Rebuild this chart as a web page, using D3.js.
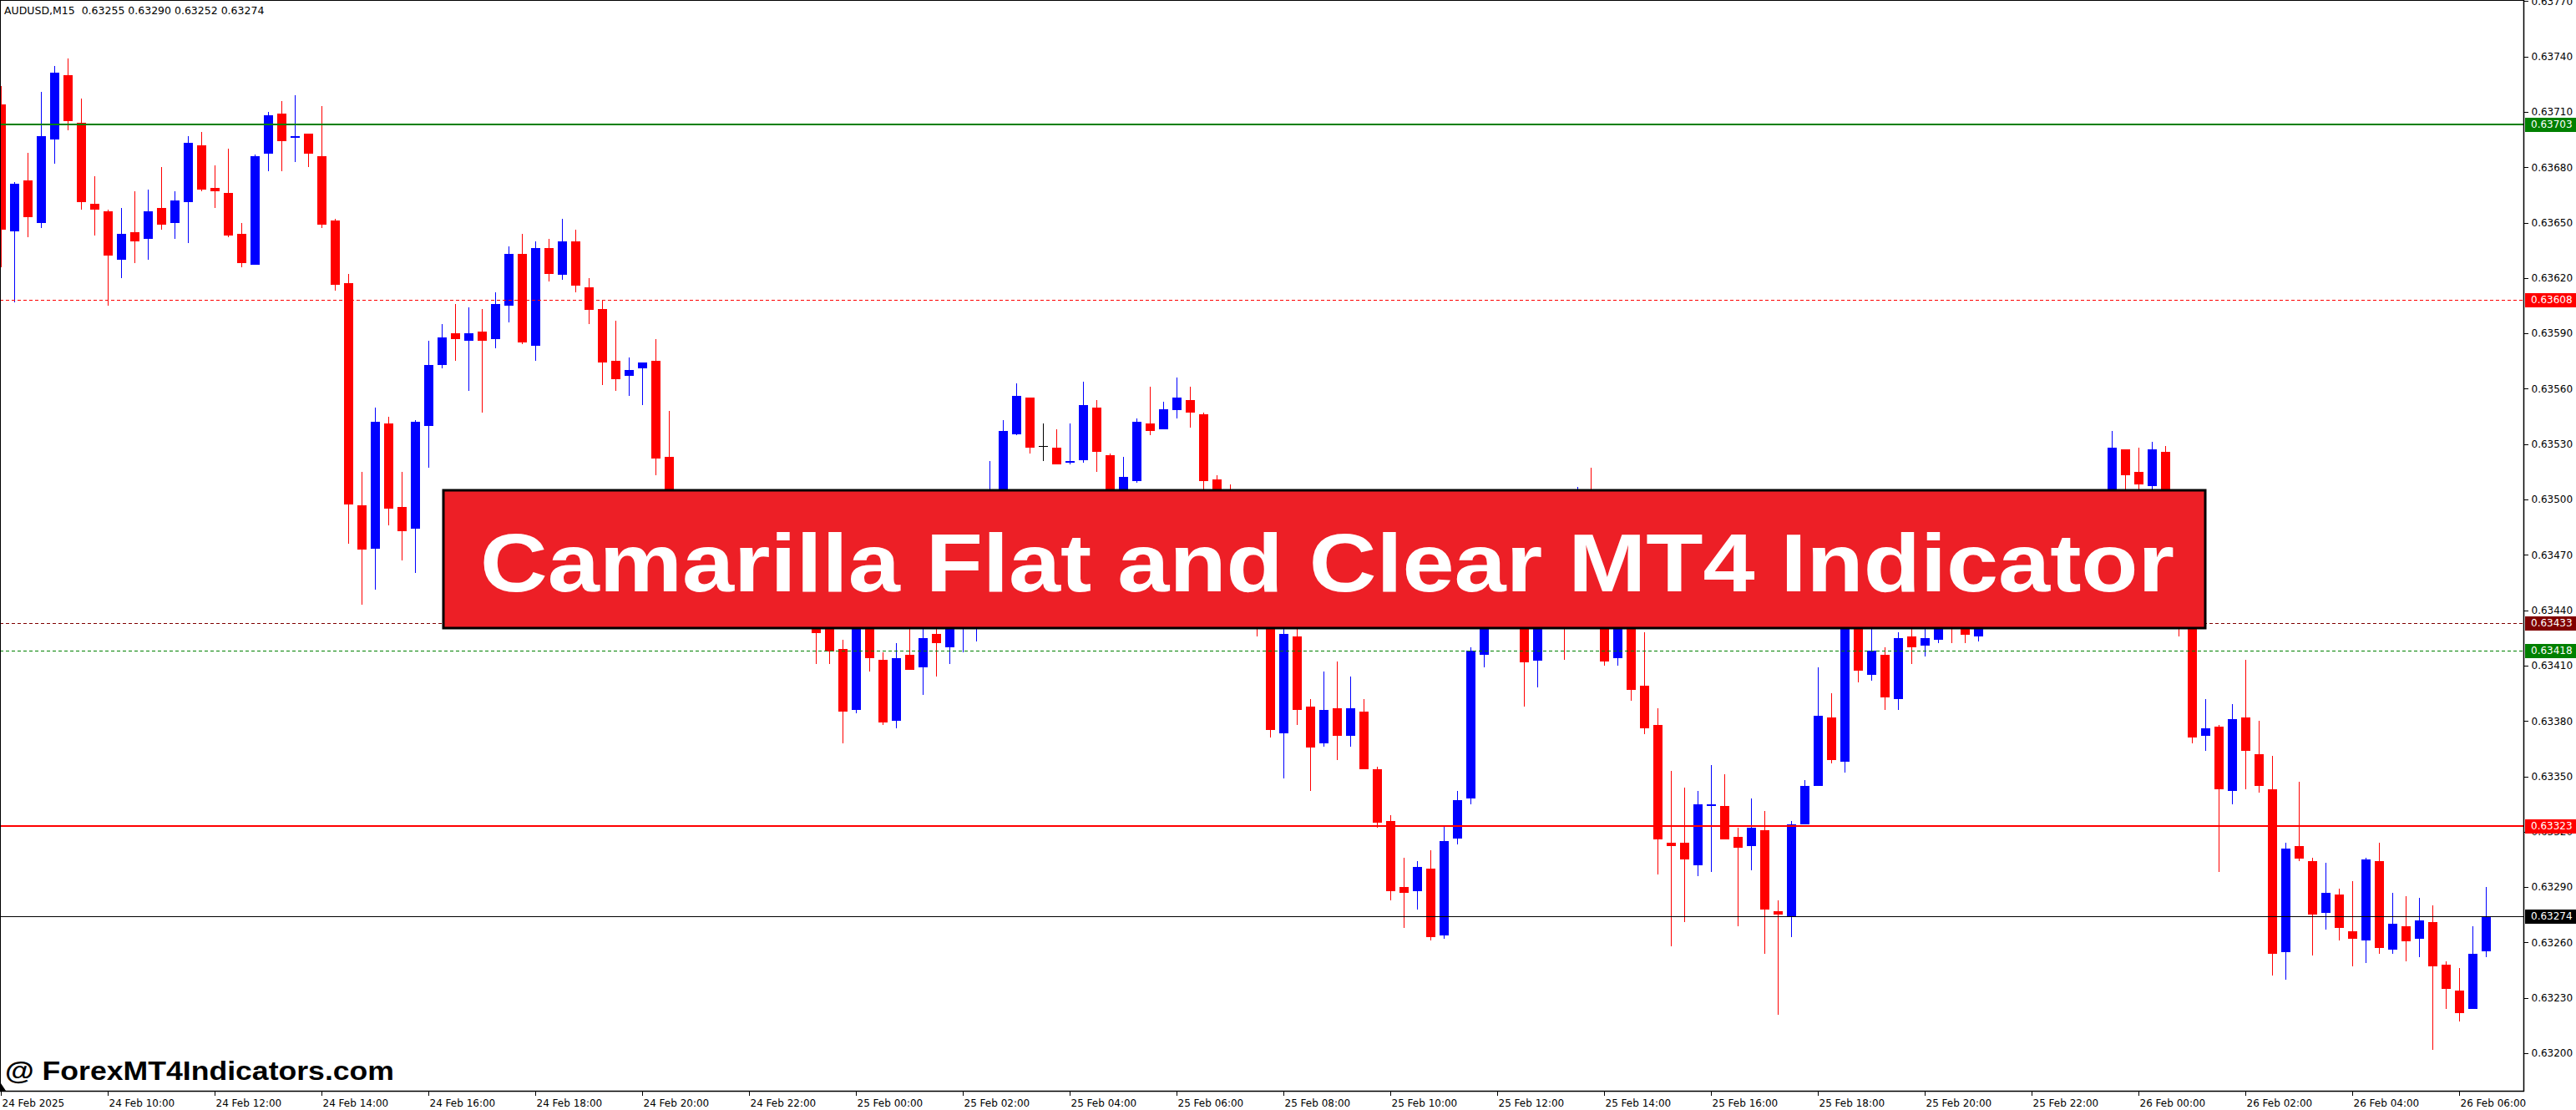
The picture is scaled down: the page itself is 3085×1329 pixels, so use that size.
<!DOCTYPE html>
<html><head><meta charset="utf-8">
<script src="https://cdn.jsdelivr.net/npm/d3@7"></script>
<style>html,body{margin:0;padding:0;background:#fff;overflow:hidden}svg{display:block}</style>
</head><body>
<svg id="chart" width="3085" height="1329"></svg>
<script>
// ---------------- DATA ----------------
const chartTitle = "AUDUSD,M15  0.63255 0.63290 0.63252 0.63274";
const bannerTitle = "Camarilla Flat and Clear MT4 Indicator";
const watermark = "@ ForexMT4Indicators.com";
const timeLabels = ["24 Feb 2025","24 Feb 10:00","24 Feb 12:00","24 Feb 14:00","24 Feb 16:00","24 Feb 18:00","24 Feb 20:00","24 Feb 22:00","25 Feb 00:00","25 Feb 02:00","25 Feb 04:00","25 Feb 06:00","25 Feb 08:00","25 Feb 10:00","25 Feb 12:00","25 Feb 14:00","25 Feb 16:00","25 Feb 18:00","25 Feb 20:00","25 Feb 22:00","26 Feb 00:00","26 Feb 02:00","26 Feb 04:00","26 Feb 06:00"];
const priceTicks = [0.63200,0.63230,0.63260,0.63290,0.63320,0.63350,0.63380,0.63410,0.63440,0.63470,0.63500,0.63530,0.63560,0.63590,0.63620,0.63650,0.63680,0.63710,0.63740,0.63770];
const levelPrices = [0.63703,0.63608,0.63433,0.63418,0.63323,0.63274];

const openPrices = [
0.63714,0.63645,0.63673,0.63650,0.63695,0.63730,0.63704,0.63660,0.63656,0.63630,
0.63645,0.63641,0.63658,0.63650,0.63661,0.63692,0.63669,0.63666,0.63644,0.63627,
0.63687,0.63709,0.63696,0.63698,0.63686,0.63651,0.63617,0.63497,0.63473,0.63541,
0.63496,0.63484,0.63540,0.63573,0.63590,0.63586,0.63591,0.63587,0.63605,0.63633,
0.63583,0.63636,0.63622,0.63640,0.63615,0.63603,0.63575,0.63567,0.63571,0.63575,
0.63523,0.63488,0.63470,0.63482,0.63465,0.63452,0.63466,0.63455,0.63445,0.63458,
0.63448,0.63440,0.63430,0.63419,0.63386,0.63438,0.63413,0.63380,0.63416,0.63409,
0.63427,0.63420,0.63440,0.63455,0.63478,0.63503,0.63535,0.63555,0.63529,0.63528,
0.63520,0.63521,0.63550,0.63524,0.63494,0.63510,0.63541,0.63538,0.63548,0.63554,
0.63546,0.63511,0.63484,0.63463,0.63472,0.63442,0.63373,0.63426,0.63388,0.63368,
0.63387,0.63372,0.63385,0.63354,0.63326,0.63290,0.63288,0.63300,0.63264,0.63316,
0.63338,0.63416,0.63448,0.63436,0.63450,0.63413,0.63444,0.63470,0.63441,0.63480,
0.63456,0.63414,0.63440,0.63399,0.63378,0.63314,0.63314,0.63302,0.63334,0.63334,
0.63317,0.63312,0.63321,0.63277,0.63274,0.63324,0.63345,0.63382,0.63358,0.63436,
0.63405,0.63416,0.63392,0.63426,0.63421,0.63424,0.63442,0.63440,0.63426,0.63440,
0.63452,0.63462,0.63455,0.63468,0.63476,0.63486,0.63478,0.63492,0.63500,0.63527,
0.63515,0.63507,0.63526,0.63480,0.63440,0.63372,0.63377,0.63342,0.63382,0.63362,
0.63343,0.63255,0.63312,0.63304,0.63276,0.63286,0.63266,0.63261,0.63304,0.63256,
0.63269,0.63262,0.63271,0.63248,0.63234,0.63224,0.63255];

const highPrices = [
0.63724,0.63672,0.63688,0.63721,0.63735,0.63739,0.63717,0.63675,0.63657,0.63658,
0.63667,0.63668,0.63680,0.63667,0.63697,0.63699,0.63681,0.63690,0.63650,0.63687,
0.63710,0.63716,0.63719,0.63698,0.63713,0.63652,0.63622,0.63515,0.63550,0.63545,
0.63515,0.63543,0.63586,0.63595,0.63606,0.63604,0.63603,0.63612,0.63637,0.63644,
0.63640,0.63641,0.63652,0.63646,0.63620,0.63608,0.63597,0.63577,0.63574,0.63587,
0.63548,0.63495,0.63490,0.63488,0.63472,0.63474,0.63472,0.63462,0.63466,0.63464,
0.63454,0.63450,0.63440,0.63424,0.63452,0.63447,0.63417,0.63422,0.63438,0.63436,
0.63435,0.63446,0.63465,0.63490,0.63521,0.63543,0.63563,0.63555,0.63541,0.63538,
0.63541,0.63564,0.63554,0.63525,0.63523,0.63544,0.63561,0.63553,0.63566,0.63561,
0.63547,0.63513,0.63508,0.63482,0.63480,0.63448,0.63436,0.63434,0.63392,0.63407,
0.63412,0.63404,0.63392,0.63355,0.63329,0.63306,0.63304,0.63310,0.63323,0.63342,
0.63420,0.63456,0.63460,0.63466,0.63458,0.63452,0.63478,0.63476,0.63507,0.63517,
0.63462,0.63446,0.63444,0.63428,0.63387,0.63353,0.63344,0.63342,0.63356,0.63351,
0.63322,0.63338,0.63331,0.63283,0.63326,0.63348,0.63409,0.63395,0.63446,0.63442,
0.63432,0.63420,0.63428,0.63432,0.63434,0.63446,0.63450,0.63448,0.63448,0.63458,
0.63466,0.63470,0.63474,0.63482,0.63490,0.63494,0.63496,0.63504,0.63537,0.63527,
0.63528,0.63531,0.63529,0.63485,0.63444,0.63392,0.63378,0.63389,0.63413,0.63380,
0.63361,0.63314,0.63347,0.63306,0.63303,0.63289,0.63293,0.63306,0.63314,0.63287,
0.63285,0.63284,0.63280,0.63250,0.63246,0.63269,0.63290];

const lowPrices = [
0.63626,0.63607,0.63642,0.63647,0.63682,0.63700,0.63657,0.63643,0.63605,0.63620,
0.63628,0.63630,0.63646,0.63641,0.63639,0.63667,0.63658,0.63642,0.63626,0.63627,
0.63678,0.63678,0.63683,0.63680,0.63647,0.63613,0.63476,0.63443,0.63451,0.63486,
0.63467,0.63460,0.63517,0.63571,0.63575,0.63559,0.63547,0.63582,0.63596,0.63584,
0.63575,0.63618,0.63619,0.63612,0.63595,0.63562,0.63559,0.63556,0.63551,0.63513,
0.63480,0.63462,0.63465,0.63458,0.63446,0.63448,0.63450,0.63440,0.63441,0.63442,
0.63436,0.63411,0.63411,0.63368,0.63384,0.63407,0.63378,0.63376,0.63408,0.63394,
0.63404,0.63411,0.63417,0.63423,0.63470,0.63498,0.63535,0.63525,0.63521,0.63519,
0.63519,0.63520,0.63515,0.63488,0.63490,0.63509,0.63535,0.63538,0.63544,0.63539,
0.63505,0.63470,0.63455,0.63455,0.63426,0.63371,0.63349,0.63378,0.63342,0.63366,
0.63359,0.63366,0.63354,0.63322,0.63283,0.63268,0.63278,0.63261,0.63262,0.63313,
0.63335,0.63409,0.63430,0.63432,0.63388,0.63398,0.63438,0.63413,0.63436,0.63448,
0.63410,0.63410,0.63391,0.63373,0.63297,0.63258,0.63271,0.63296,0.63298,0.63316,
0.63269,0.63299,0.63254,0.63221,0.63263,0.63324,0.63345,0.63357,0.63352,0.63401,
0.63402,0.63386,0.63386,0.63411,0.63415,0.63422,0.63422,0.63422,0.63423,0.63436,
0.63446,0.63448,0.63430,0.63460,0.63468,0.63472,0.63474,0.63486,0.63495,0.63505,
0.63500,0.63500,0.63470,0.63426,0.63368,0.63364,0.63298,0.63335,0.63343,0.63341,
0.63242,0.63240,0.63304,0.63253,0.63267,0.63261,0.63247,0.63249,0.63254,0.63254,
0.63250,0.63252,0.63202,0.63224,0.63217,0.63224,0.63252];

const closePrices = [
0.63646,0.63671,0.63653,0.63697,0.63731,0.63705,0.63661,0.63657,0.63632,0.63644,
0.63640,0.63656,0.63649,0.63662,0.63693,0.63668,0.63667,0.63643,0.63628,0.63686,
0.63708,0.63694,0.63697,0.63687,0.63649,0.63616,0.63497,0.63473,0.63542,0.63495,
0.63483,0.63542,0.63573,0.63588,0.63587,0.63590,0.63586,0.63606,0.63633,0.63585,
0.63636,0.63622,0.63640,0.63616,0.63603,0.63574,0.63565,0.63570,0.63574,0.63522,
0.63488,0.63470,0.63482,0.63465,0.63452,0.63466,0.63455,0.63445,0.63458,0.63448,
0.63440,0.63428,0.63418,0.63385,0.63440,0.63414,0.63379,0.63414,0.63408,0.63425,
0.63422,0.63440,0.63458,0.63480,0.63505,0.63537,0.63556,0.63528,0.63529,0.63519,
0.63521,0.63551,0.63526,0.63495,0.63512,0.63542,0.63537,0.63549,0.63555,0.63547,
0.63510,0.63480,0.63462,0.63475,0.63440,0.63375,0.63427,0.63386,0.63366,0.63386,
0.63372,0.63387,0.63354,0.63325,0.63288,0.63287,0.63301,0.63263,0.63315,0.63337,
0.63418,0.63448,0.63436,0.63452,0.63412,0.63444,0.63470,0.63440,0.63480,0.63455,
0.63412,0.63440,0.63397,0.63376,0.63316,0.63312,0.63305,0.63335,0.63335,0.63316,
0.63311,0.63322,0.63278,0.63275,0.63324,0.63345,0.63383,0.63359,0.63437,0.63407,
0.63418,0.63393,0.63425,0.63420,0.63425,0.63438,0.63432,0.63427,0.63440,0.63452,
0.63462,0.63455,0.63468,0.63476,0.63486,0.63478,0.63492,0.63500,0.63528,0.63513,
0.63508,0.63527,0.63480,0.63440,0.63371,0.63376,0.63343,0.63381,0.63364,0.63345,
0.63254,0.63311,0.63305,0.63275,0.63287,0.63268,0.63262,0.63305,0.63257,0.63270,
0.63261,0.63272,0.63247,0.63235,0.63222,0.63254,0.63274];

// ---------------- DRAW ----------------
const W = 3085, H = 1329;
const plotRight = 3022, plotBottom = 1306;
const svg = d3.select("#chart");
const FONT = "DejaVu Sans, Verdana, sans-serif";

const bars = openPrices.map((o, i) => ({i, o, h: highPrices[i], l: lowPrices[i], c: closePrices[i]}));
const tickBars = timeLabels.map((_, k) => k * 8);

const x = d3.scaleLinear().domain([0, 184]).range([1, 2945]);
const y = d3.scaleLinear().domain([0.63200, 0.63740]).range([1261, 67.6]);

svg.append("rect").attr("width", W).attr("height", H).attr("fill", "#fff");

svg.append("defs").append("clipPath").attr("id", "plotClip")
  .append("rect").attr("x", 0).attr("y", 0).attr("width", plotRight).attr("height", plotBottom);

const plot = svg.append("g").attr("clip-path", "url(#plotClip)");

const colorOf = d => d.c > d.o ? "#0000FF" : (d.c < d.o ? "#FF0000" : "#000000");

// wicks
plot.append("g").attr("shape-rendering", "crispEdges").selectAll("line").data(bars).join("line")
  .attr("x1", d => Math.round(x(d.i)) + 0.5).attr("x2", d => Math.round(x(d.i)) + 0.5)
  .attr("y1", d => y(d.h)).attr("y2", d => y(d.l))
  .attr("stroke", colorOf).attr("stroke-width", 1);

// bodies
plot.append("g").attr("shape-rendering", "crispEdges").selectAll("rect").data(bars).join("rect")
  .attr("x", d => Math.round(x(d.i)) - 5)
  .attr("width", 11)
  .attr("y", d => Math.round(y(Math.max(d.o, d.c))))
  .attr("height", d => Math.max(1, Math.round(Math.abs(y(d.o) - y(d.c)))))
  .attr("fill", colorOf);

// level lines
const levelStyle = [
  {color: "#008000", width: 2, dash: null, box: "#008000"},
  {color: "#FF0000", width: 1, dash: "4,3", box: "#FF0000"},
  {color: "#800000", width: 1, dash: "4,3", box: "#800000"},
  {color: "#008000", width: 1, dash: "4,3", box: "#008000"},
  {color: "#FF0000", width: 2, dash: null, box: "#FF0000"},
  {color: "#000000", width: 1, dash: null, box: "#000000"}
];
const levels = levelPrices.map((p, k) => ({p, s: levelStyle[k]}));
plot.append("g").attr("shape-rendering", "crispEdges").selectAll("line").data(levels).join("line")
  .attr("x1", 0).attr("x2", plotRight)
  .attr("y1", d => Math.round(y(d.p)) + (d.s.width === 1 ? 0.5 : 0))
  .attr("y2", d => Math.round(y(d.p)) + (d.s.width === 1 ? 0.5 : 0))
  .attr("stroke", d => d.s.color).attr("stroke-width", d => d.s.width)
  .attr("stroke-dasharray", d => d.s.dash);

// frame
svg.append("path").attr("d", `M0.5,${plotBottom} V0.5 H${plotRight}`)
  .attr("fill", "none").attr("stroke", "#000").attr("stroke-width", 1).attr("shape-rendering", "crispEdges");

// right price axis
const yAxis = d3.axisRight(y).tickValues(priceTicks).tickFormat(d3.format(".5f")).tickSize(5).tickPadding(4);
const yg = svg.append("g").attr("transform", `translate(${plotRight + 0.5},0)`).call(yAxis);
yg.select(".domain").remove();
yg.selectAll("line").attr("stroke", "#000").attr("shape-rendering", "crispEdges");
yg.selectAll("text").attr("font-family", FONT).attr("font-size", 12).attr("fill", "#000");
svg.append("line").attr("x1", plotRight + 0.5).attr("x2", plotRight + 0.5).attr("y1", 0).attr("y2", plotBottom + 1)
  .attr("stroke", "#000").attr("stroke-width", 1.5);

// level labels on axis
const lbl = svg.append("g").selectAll("g").data(levels).join("g")
  .attr("transform", d => `translate(${plotRight + 2},${Math.round(y(d.p))})`);
lbl.append("rect").attr("x", 0).attr("y", -8).attr("width", W - plotRight - 2).attr("height", 17)
  .attr("fill", d => d.s.box);
lbl.append("text").attr("x", 7).attr("y", 0).attr("dy", "0.36em")
  .attr("font-family", FONT).attr("font-size", 12).attr("fill", "#fff")
  .text(d => d3.format(".5f")(d.p));

// bottom time axis
const xAxis = d3.axisBottom(x).tickValues(tickBars).tickFormat((d, k) => timeLabels[k]).tickSize(5).tickPadding(5);
const xg = svg.append("g").attr("transform", `translate(0,${plotBottom + 0.5})`).call(xAxis);
xg.select(".domain").remove();
xg.selectAll("line").attr("stroke", "#000").attr("shape-rendering", "crispEdges");
xg.selectAll("text").attr("text-anchor", "start").attr("x", 1)
  .attr("font-family", FONT).attr("font-size", 12).attr("fill", "#000");
svg.append("line").attr("x1", 0).attr("x2", plotRight + 1).attr("y1", plotBottom + 0.5).attr("y2", plotBottom + 0.5)
  .attr("stroke", "#000").attr("stroke-width", 1.5);

// small marker at bottom-left
svg.append("path").attr("d", `M1,${plotBottom - 9} L1,${plotBottom} L7,${plotBottom} Z`).attr("fill", "#000");

// title text top-left
svg.append("text").attr("x", 5).attr("y", 17)
  .attr("font-family", FONT).attr("font-size", 12.5).attr("fill", "#000")
  .attr("xml:space", "preserve").style("white-space", "pre")
  .text(chartTitle);

// banner
svg.append("rect").attr("x", 531).attr("y", 587).attr("width", 2110).attr("height", 165)
  .attr("fill", "#ED1F26").attr("stroke", "#000").attr("stroke-width", 3);
svg.append("text").attr("x", 575).attr("y", 708)
  .attr("font-family", "Liberation Sans, Arial, sans-serif").attr("font-weight", "bold")
  .attr("font-size", 98).attr("fill", "#fff")
  .attr("textLength", 2029).attr("lengthAdjust", "spacingAndGlyphs")
  .text(bannerTitle);

// watermark
svg.append("text").attr("x", 6).attr("y", 1293)
  .attr("font-family", "Liberation Sans, Arial, sans-serif").attr("font-weight", "bold")
  .attr("font-size", 32).attr("fill", "#000")
  .attr("textLength", 466).attr("lengthAdjust", "spacingAndGlyphs")
  .text(watermark);
</script>
</body></html>
